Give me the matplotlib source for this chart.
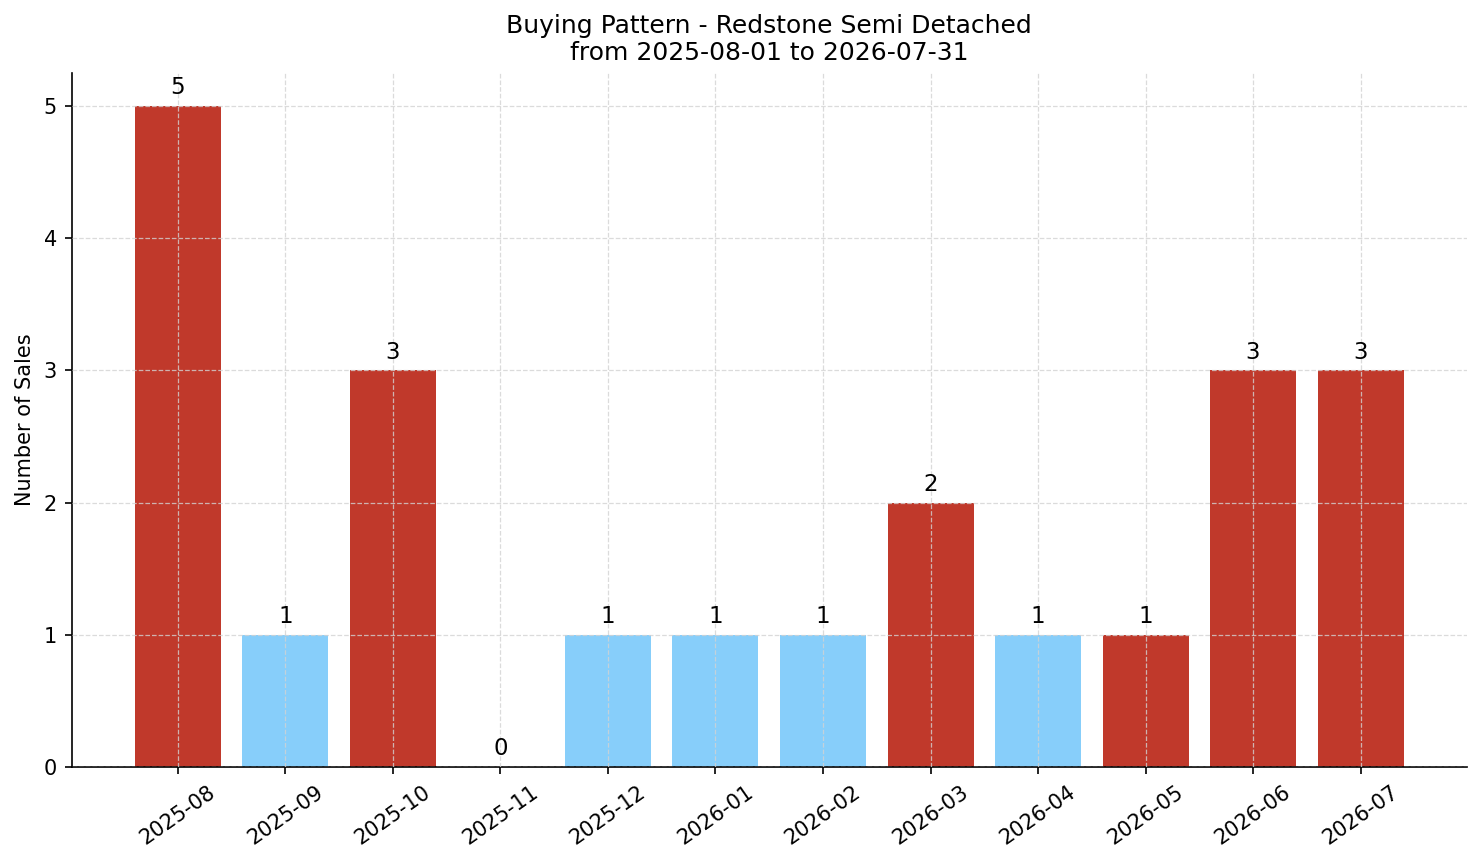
import matplotlib
matplotlib.use("Agg")
import matplotlib.pyplot as plt

months = ["2025-08", "2025-09", "2025-10", "2025-11", "2025-12", "2026-01",
          "2026-02", "2026-03", "2026-04", "2026-05", "2026-06", "2026-07"]
sales = [5, 1, 3, 0, 1, 1, 1, 2, 1, 1, 3, 3]
bar_colors = ["#c0392b", "#87cefa", "#c0392b", "#87cefa", "#87cefa", "#87cefa",
              "#87cefa", "#c0392b", "#87cefa", "#c0392b", "#c0392b", "#c0392b"]
title = "Buying Pattern - Redstone Semi Detached\nfrom 2025-08-01 to 2026-07-31"

fig = plt.figure(figsize=(1481 / 150, 863 / 150), dpi=150)
ax = fig.add_axes([71.5 / 1481, 1 - 767 / 863, (1467 - 71.5) / 1481, (767 - 73) / 863])

x = list(range(len(months)))
bars = ax.bar(x, sales, color=bar_colors, width=0.8, zorder=2)
for xi, v in zip(x, sales):
    ax.text(xi, v + 0.05, str(v), ha="center", va="bottom", fontsize=11, zorder=4)

ax.set_xticks(x)
ax.set_xticklabels(months, rotation=35, ha="center", fontsize=10)
ax.tick_params(axis="y", labelsize=10)
ax.set_yticks(range(0, 6))
ax.set_ylabel("Number of Sales", fontsize=10)
ax.set_title(title, fontsize=12)
ax.grid(True, linestyle="--", color="#d3d3d3", alpha=0.8, linewidth=0.6, zorder=3)
ax.set_axisbelow(False)
ax.spines["top"].set_visible(False)
ax.spines["right"].set_visible(False)

fig.savefig("out.png", dpi=150)
